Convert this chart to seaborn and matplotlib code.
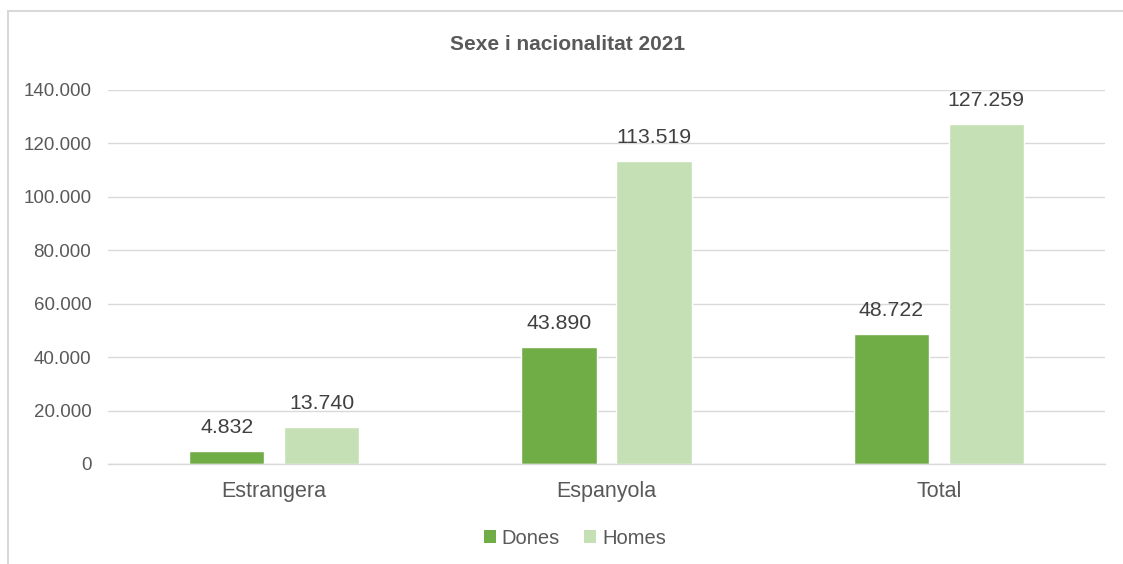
import matplotlib
matplotlib.use("Agg")
import matplotlib.pyplot as plt
import seaborn as sns
import pandas as pd
from matplotlib.patches import Rectangle, Patch

categories = ["Estrangera", "Espanyola", "Total"]
series_names = ["Dones", "Homes"]
dones = [4832, 43890, 48722]
homes = [13740, 113519, 127259]
colors = ["#70AD47", "#C5E0B4"]
yticks = [0, 20000, 40000, 60000, 80000, 100000, 120000, 140000]

def fmt(v):
    return f"{int(round(v)):,}".replace(",", ".")

df = pd.DataFrame({
    "cat": categories * 2,
    "serie": [series_names[0]] * 3 + [series_names[1]] * 3,
    "val": dones + homes,
})

sns.set_theme(style="white")
plt.rcParams["font.family"] = ["Liberation Sans", "DejaVu Sans"]

fig = plt.figure(figsize=(11.23, 5.64), dpi=100)
W, H = 1123, 564
ax = fig.add_axes([108 / W, 1 - 464 / H, (1105 - 108) / W, (464 - 90) / H])

sns.barplot(data=df, x="cat", y="val", hue="serie", order=categories,
            hue_order=series_names, palette=colors, width=0.572, gap=0.21,
            saturation=1, ax=ax, legend=False)

ax.set_ylim(0, 140000)
ax.set_xlim(-0.5, 2.5)
ax.set_yticks(yticks)
ax.set_yticklabels([fmt(v) for v in yticks], fontsize=13.5, color="#595959")
ax.tick_params(axis="y", length=0, pad=12)
ax.tick_params(axis="x", length=0, pad=12, labelsize=15.5, labelcolor="#595959")
ax.set_xlabel("")
ax.set_ylabel("")
ax.yaxis.grid(True, color="#D9D9D9", linewidth=1)
ax.set_axisbelow(True)
for s in ["top", "right", "left"]:
    ax.spines[s].set_visible(False)
ax.spines["bottom"].set_color("#D9D9D9")
ax.spines["bottom"].set_linewidth(1)

for cont in ax.containers:
    labels = [fmt(b.get_height()) for b in cont]
    ax.bar_label(cont, labels=labels, padding=10, fontsize=15.3, color="#404040")

fig.text(568 / W, 1 - 44 / H, "Sexe i nacionalitat 2021", ha="center", va="center",
         fontsize=15, fontweight="bold", color="#595959")

handles = [Patch(facecolor=c, edgecolor="none") for c in colors]
fig.legend(handles, series_names, loc="center", bbox_to_anchor=(575 / W, 1 - 538 / H),
           ncol=2, frameon=False, fontsize=14.5, labelcolor="#595959",
           handlelength=0.6, handleheight=0.6, handletextpad=0.3, columnspacing=1.2)

fig.patches.append(Rectangle((8 / W, -0.1), 1.2, 1 - 11 / H + 0.1, transform=fig.transFigure,
                             fill=False, edgecolor="#D9D9D9", linewidth=1.5))

fig.savefig("out.png", dpi=100)
